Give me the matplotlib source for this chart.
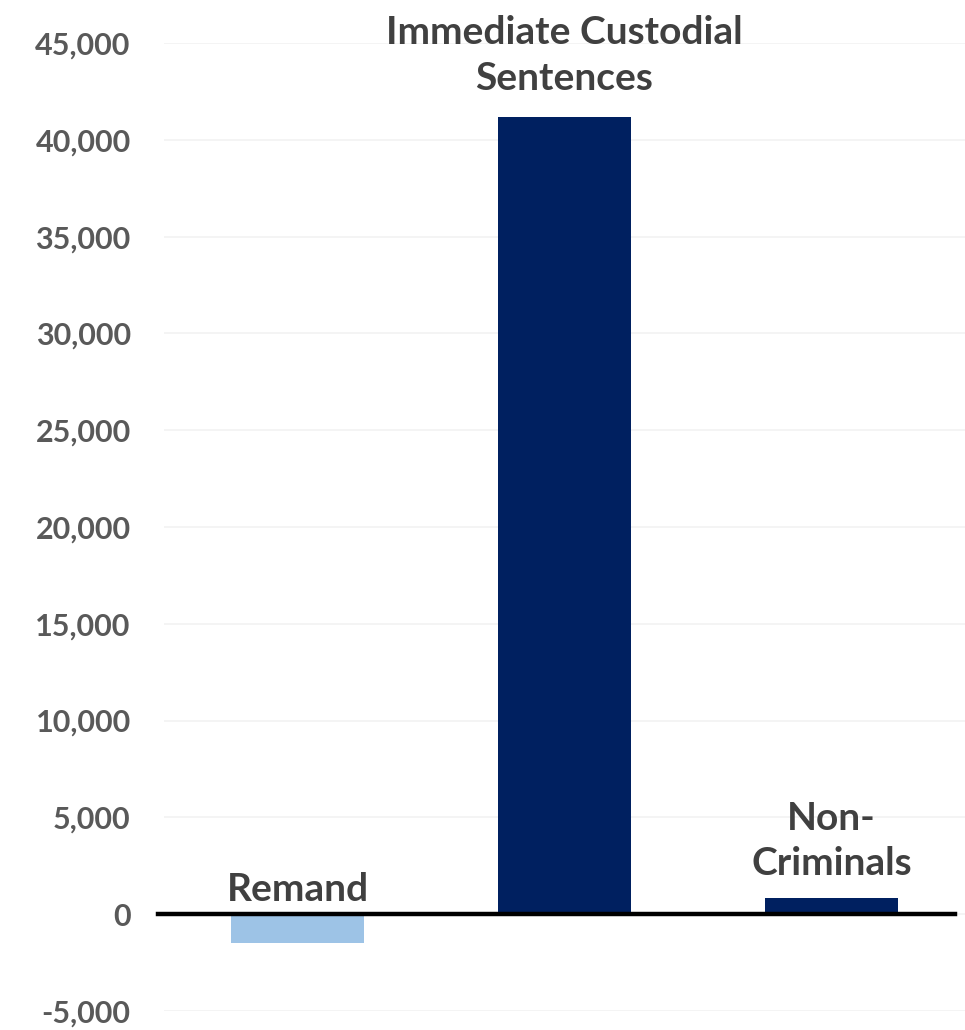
import matplotlib
matplotlib.use("Agg")
import matplotlib.pyplot as plt
from matplotlib.ticker import FuncFormatter

categories = ["Remand", "Immediate Custodial\nSentences", "Non-\nCriminals"]
values = [-1500, 41200, 850]
colors = ["#9DC3E6", "#002060", "#002060"]
yticks = list(range(-5000, 45001, 5000))
label_offsets_pt = [9.5, 19.5, 16.5]

plt.rcParams['font.family'] = ['Lato', 'DejaVu Sans']

fig = plt.figure(figsize=(9.65, 10.3), dpi=100)
ax = fig.add_axes([0.170, 0.0185, 0.830, 0.9397])

x = list(range(len(categories)))
ax.bar(x, values, width=0.5, color=colors, zorder=2)
ax.set_xlim(-0.5, 2.5)
ax.set_ylim(-5000, 45000)
ax.set_yticks(yticks)
ax.yaxis.set_major_formatter(FuncFormatter(lambda v, p: f"{int(v):,}"))
ax.tick_params(axis='y', length=0, pad=24, labelsize=22, labelcolor="#595959")
for lab in ax.get_yticklabels():
    lab.set_fontweight("bold")
ax.set_xticks([])
ax.grid(axis='y', color="#F2F2F2", linewidth=1.2, zorder=0)
for s in ax.spines.values():
    s.set_visible(False)
ax.axhline(0, xmin=-0.007, xmax=0.988, color="black", linewidth=3.2, zorder=3, clip_on=False)

for xi, v, c, off in zip(x, values, categories, label_offsets_pt):
    base = max(v, 0)
    ax.annotate(c, xy=(xi, base), xytext=(0, off), textcoords="offset points",
                ha="center", va="baseline", fontsize=28, fontweight="bold",
                color="#404040", linespacing=1.35, zorder=4)

fig.savefig("out.png", dpi=100, facecolor="white")
